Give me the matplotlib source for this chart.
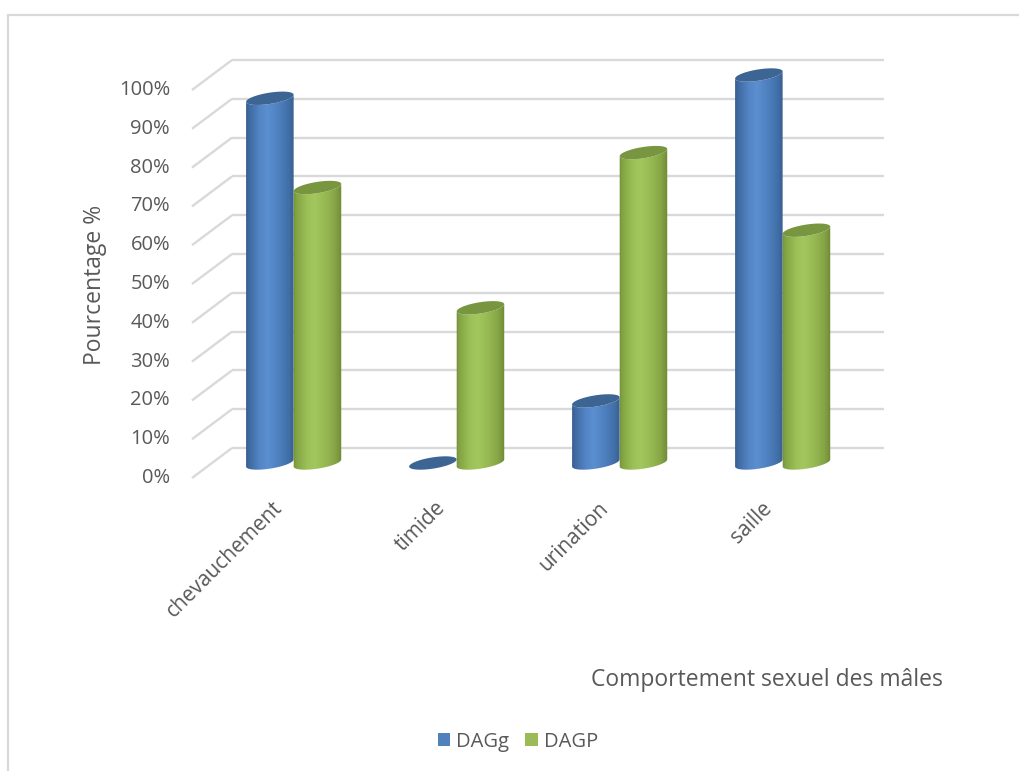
import numpy as np
import matplotlib
matplotlib.use("Agg")
import matplotlib.pyplot as plt
from matplotlib.patches import Polygon, Rectangle, Patch
from matplotlib.colors import LinearSegmentedColormap

# ---- data -------------------------------------------------------------
categories = ["chevauchement", "timide", "urination", "saille"]
dagg = [94, 0, 16, 100]
dagp = [71, 40, 80, 60]
series_names = ["DAGg", "DAGP"]
y_ticks = [0, 10, 20, 30, 40, 50, 60, 70, 80, 90, 100]
y_tick_labels = [f"{t}%" for t in y_ticks]
x_title = "Comportement sexuel des mâles"
y_title = "Pourcentage %"

# ---- style ------------------------------------------------------------
plt.rcParams["font.family"] = ["Open Sans", "DejaVu Sans"]
TEXT = "#595959"
GRID = "#d9d9d9"
blue_cmap = LinearSegmentedColormap.from_list(
    "cyl_blue",
    [(0.0, "#33578a"), (0.08, "#3f6aa1"), (0.30, "#5486c7"), (0.45, "#5b8fd0"),
     (0.65, "#4f81c1"), (0.85, "#4270a8"), (1.0, "#34598a")])
green_cmap = LinearSegmentedColormap.from_list(
    "cyl_green",
    [(0.0, "#6a8533"), (0.08, "#82a343"), (0.30, "#9cc157"), (0.45, "#a3c75e"),
     (0.65, "#97b953"), (0.85, "#86a546"), (1.0, "#6a8532")])
series_style = [
    dict(cmap=blue_cmap, top="#3c6594", legend="#4f81bd", offset=-0.145),
    dict(cmap=green_cmap, top="#78963f", legend="#9bbb59", offset=0.147),
]
bar_width = 0.295

W, H = 1019, 771
fig = plt.figure(figsize=(W / 100, H / 100), dpi=100)
fig.patch.set_facecolor("white")

# axes = mid-depth plane of the 3-D box
ax = fig.add_axes([212 / W, (H - 463) / H, 652 / W, 388 / H])
ax.set_xlim(-0.5, len(categories) - 0.5)
ax.set_ylim(0, 100)
ax.axis("off")

p0 = ax.transData.transform((0, 0))
sx = ax.transData.transform((1, 0))[0] - p0[0]   # pixels per category
sy = ax.transData.transform((0, 1))[1] - p0[1]   # pixels per percent

# half-depth of the box, in pixels, converted to data units
depth_px = (20, 15)
bx, by = depth_px[0] / sx, depth_px[1] / sy      # back wall shift
fx, fy = -bx, -by                                # front plane shift

x_left, x_right = -0.5, len(categories) - 0.5

# back wall gridlines and left side-wall diagonals
for t in y_ticks:
    ax.plot([x_left + bx, x_right + bx], [t + by, t + by], color=GRID,
            lw=1.7, zorder=1, clip_on=False, solid_capstyle="butt")
    ax.plot([x_left + bx, x_left + fx], [t + by, t + fy], color=GRID,
            lw=1.7, zorder=1, clip_on=False, solid_capstyle="butt")

# y tick labels on the front plane
for t, lab in zip(y_ticks, y_tick_labels):
    ax.text(x_left + fx - 22 / sx, t + fy, lab, ha="right", va="center",
            fontsize=14.5, color=TEXT, clip_on=False)

# ---- cylinders -----------------------------------------------------------
theta = np.radians(9)
b_px = 5.6


def ellipse_pts(a_px, t):
    ex = a_px * np.cos(theta) * np.cos(t) - b_px * np.sin(theta) * np.sin(t)
    ey = a_px * np.sin(theta) * np.cos(t) + b_px * np.cos(theta) * np.sin(t)
    return ex / sx, ey / sy


def draw_cylinder(xc, value, style, z):
    a_px = bar_width / 2 * sx
    t0 = np.arctan(-b_px * np.sin(theta) / (a_px * np.cos(theta)))
    t_low = np.linspace(t0 + np.pi, t0 + 2 * np.pi, 80)
    lx, ly = ellipse_pts(a_px, t_low)
    if value > 0:
        bottom = np.column_stack([xc + lx, ly])
        top = np.column_stack([xc + lx[::-1], value + ly[::-1]])
        body = Polygon(np.vstack([bottom, top]), closed=True,
                       transform=ax.transData, facecolor="none",
                       edgecolor="none", clip_on=False)
        ax.add_patch(body)
        grad = np.linspace(0, 1, 256).reshape(1, -1)
        half = a_px * 1.05 / sx
        img = ax.imshow(grad, cmap=style["cmap"], aspect="auto",
                        extent=[xc - half, xc + half, -12 / sy, value + 12 / sy],
                        interpolation="bilinear", zorder=z)
        img.set_clip_path(body)
        img.set_clip_box(fig.bbox)
    t_all = np.linspace(0, 2 * np.pi, 160)
    ex, ey = ellipse_pts(a_px, t_all)
    cap = Polygon(np.column_stack([xc + ex, value + ey]), closed=True,
                  facecolor=style["top"], edgecolor="none", zorder=z + 0.01,
                  clip_on=False)
    ax.add_patch(cap)


z = 3.0
for i in range(len(categories)):
    for vals, style in zip([dagg, dagp], series_style):
        draw_cylinder(i + style["offset"], vals[i], style, z)
        z += 0.1

# category labels
for i, cat in enumerate(categories):
    ax.text(i - 14 / sx, -42 / sy, cat, rotation=45, rotation_mode="anchor",
            ha="right", va="center", fontsize=15, color=TEXT, clip_on=False)

ax.set_xlim(x_left, x_right)
ax.set_ylim(0, 100)

# ---- titles, legend, frame ----------------------------------------------
fig.text(767 / W, 1 - 680 / H, x_title, ha="center", va="center",
         fontsize=16.5, color=TEXT)
fig.text(95 / W, 1 - 285 / H, y_title, ha="center", va="center",
         rotation=90, fontsize=16.5, color=TEXT)

handles = [Patch(facecolor=s["legend"], edgecolor="none") for s in series_style]
fig.legend(handles, series_names, loc="center",
           bbox_to_anchor=(518 / W, 1 - 742 / H), ncol=2, frameon=False,
           handlelength=0.62, handleheight=0.62, handletextpad=0.3,
           columnspacing=0.8, fontsize=14.5, labelcolor=TEXT,
           borderpad=0.0, borderaxespad=0.0)

fig.add_artist(Rectangle((7.5 / W, -0.1), 1.2, (H - 14.5) / H + 0.1,
                         transform=fig.transFigure, fill=False,
                         edgecolor=GRID, lw=1.6))

fig.savefig("out.png", dpi=100)
